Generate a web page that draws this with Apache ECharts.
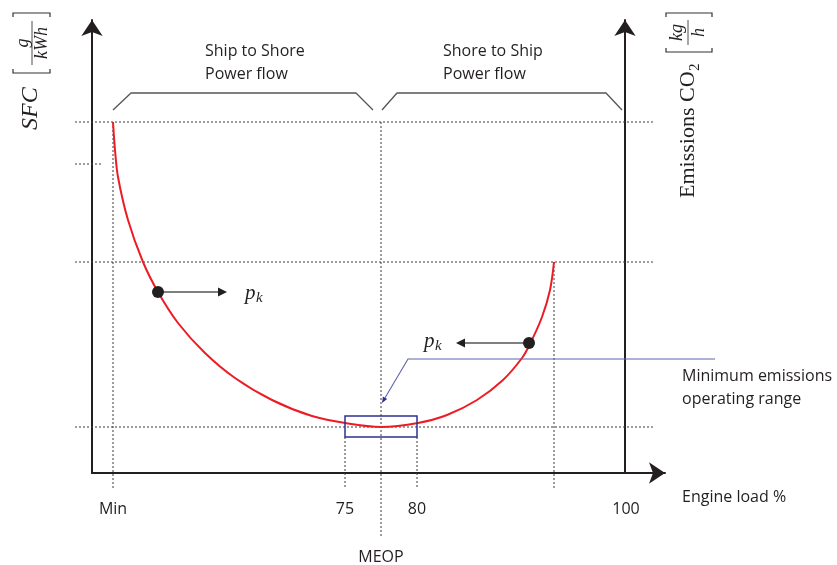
<!DOCTYPE html>
<html><head><meta charset="utf-8">
<script src="https://cdn.jsdelivr.net/npm/echarts@6/dist/echarts.min.js"></script>
<style>html,body{margin:0;padding:0;background:#fff}#chart{width:837px;height:565px}</style>
</head><body><div id="chart"></div>
<script>
// ---- Data (schematic units: x = engine load axis position, y = SFC / emissions level) ----
const xTickValues = [21, 253, 325, 534];
const xTickLabels = ['Min', '75', '80', '100'];

const curveX = [21, 23, 26, 36, 51, 66, 86, 113, 143, 180, 220, 256, 289, 326, 355, 385, 411, 430, 438, 450, 458, 462];
const curveY = [351, 323, 296, 253, 211, 181, 150, 120, 95, 73, 57, 49.5, 46, 50, 58, 73, 93, 115, 129, 156, 183, 211];

const pointX = [66, 437];
const pointY = [181, 130];
const arrowFromX = [66, 437];
const arrowToX = [135, 364];
const arrowY = [181, 130];
const pkLabelX = [153, 332];
const pkLabelY = [180, 132];

const guideX1 = [-17, -17, -17, -17, 21, 253, 289, 325, 462];
const guideY1 = [351, 211, 46, 309, 351, 36, 351, 36, 211];
const guideX2 = [563, 563, 563, 11, 21, 253, 289, 325, 462];
const guideY2 = [351, 211, 46, 309, -15, -15, -65, -15, -15];

const braceLeftX = [21, 39, 264, 281];
const braceLeftY = [363, 380, 380, 363];
const braceRightX = [290, 305, 514, 530];
const braceRightY = [363, 380, 380, 363];

const rangeX = [253, 325];
const rangeY = [36, 57];
const leaderX = [623, 316, 290];
const leaderY = [114, 114, 70];

const annotationText = ['Ship to Shore\nPower flow', 'Shore to Ship\nPower flow', 'Minimum emissions\noperating range', 'Engine load %', 'MEOP'];
const annotationX = [113, 351, 590, 590, 289];
const annotationY = [410.5, 410.5, 85, -24, -84];
const annotationAlign = ['left', 'left', 'left', 'left', 'center'];

// ---- Styling ----
const INK = '#231f20';
const SANS = '"Open Sans", "Noto Sans", sans-serif';
const SERIF = '"Liberation Serif", "DejaVu Serif", serif';

function measure(text, font) {
  const c = document.createElement('canvas').getContext('2d');
  c.font = font; return c.measureText(text).width;
}

const chart = echarts.init(document.getElementById('chart'), null, {renderer: 'canvas'});

const axisLineStyle = {show: true, onZero: false, symbol: ['none', 'arrow'], symbolSize: [16, 16], lineStyle: {color: INK, width: 2}};

const emW = measure('Emissions CO', '22px ' + SERIF);

const option = {
  animation: false,
  backgroundColor: '#fff',
  grid: [
    {left: 92, right: 172, top: 20, bottom: 92},
    {left: 92, right: 212, top: 20, bottom: 92}
  ],
  xAxis: [
    {gridIndex: 0, type: 'value', min: 0, max: 573,
     axisLine: axisLineStyle, axisTick: {show: false}, splitLine: {show: false},
     axisLabel: {customValues: xTickValues, formatter: v => { const i = xTickValues.indexOf(v); return i >= 0 ? xTickLabels[i] : ''; },
                 margin: 28, color: INK, fontSize: 16, fontFamily: SANS}},
    {gridIndex: 1, type: 'value', min: 0, max: 533, show: false}
  ],
  yAxis: [
    {gridIndex: 0, type: 'value', min: 0, max: 453, axisLine: axisLineStyle,
     axisTick: {show: false}, axisLabel: {show: false}, splitLine: {show: false}},
    {gridIndex: 1, type: 'value', min: 0, max: 453, position: 'right', axisLine: axisLineStyle,
     axisTick: {show: false}, axisLabel: {show: false}, splitLine: {show: false}}
  ],
  graphic: [
    {type: 'group', x: 12, y: 130, rotation: Math.PI / 2, silent: true, children: [
      {type: 'text', x: 0, y: 19, style: {text: 'SFC', fontFamily: SERIF, fontStyle: 'italic', fontSize: 24, fill: INK, align: 'left', verticalAlign: 'middle'}},
      {type: 'polyline', shape: {points: [[61, 1], [57, 1], [57, 38], [61, 38]]}, style: {stroke: '#333', lineWidth: 1.2, fill: null}},
      {type: 'polyline', shape: {points: [[113, 1], [117, 1], [117, 38], [113, 38]]}, style: {stroke: '#333', lineWidth: 1.2, fill: null}},
      {type: 'text', x: 87, y: 11, style: {text: 'g', fontFamily: SERIF, fontStyle: 'italic', fontSize: 18, fill: INK, align: 'center', verticalAlign: 'middle'}},
      {type: 'line', shape: {x1: 65, y1: 20, x2: 109, y2: 20}, style: {stroke: INK, lineWidth: 0.8}},
      {type: 'text', x: 87, y: 30, style: {text: 'kWh', fontFamily: SERIF, fontStyle: 'italic', fontSize: 18, fill: INK, align: 'center', verticalAlign: 'middle'}}
    ]},
    {type: 'group', x: 665, y: 198, rotation: Math.PI / 2, silent: true, children: [
      {type: 'text', x: 0, y: 23, style: {text: 'Emissions CO', fontFamily: SERIF, fontSize: 22, fill: INK, align: 'left', verticalAlign: 'middle'}},
      {type: 'text', x: emW + 0.5, y: 30, style: {text: '2', fontFamily: SERIF, fontSize: 15, fill: INK, align: 'left', verticalAlign: 'middle'}},
      {type: 'polyline', shape: {points: [[150, 1], [146, 1], [146, 47], [150, 47]]}, style: {stroke: '#333', lineWidth: 1.2, fill: null}},
      {type: 'polyline', shape: {points: [[181, 1], [185, 1], [185, 47], [181, 47]]}, style: {stroke: '#333', lineWidth: 1.2, fill: null}},
      {type: 'text', x: 165.5, y: 12, style: {text: 'kg', fontFamily: SERIF, fontStyle: 'italic', fontSize: 18, fill: INK, align: 'center', verticalAlign: 'middle'}},
      {type: 'line', shape: {x1: 153, y1: 23, x2: 178, y2: 23}, style: {stroke: INK, lineWidth: 0.8}},
      {type: 'text', x: 165.5, y: 34, style: {text: 'h', fontFamily: SERIF, fontStyle: 'italic', fontSize: 18, fill: INK, align: 'center', verticalAlign: 'middle'}}
    ]}
  ],
  series: [
    {type: 'custom', name: 'guides', silent: true, z: 1,
     dimensions: ['x1', 'y1', 'x2', 'y2'], encode: {x: [0, 2], y: [1, 3]},
     data: guideX1.map((v, i) => [v, guideY1[i], guideX2[i], guideY2[i]]),
     renderItem: (params, api) => {
       const a = api.coord([api.value(0), api.value(1)]);
       const b = api.coord([api.value(2), api.value(3)]);
       return {type: 'line', shape: {x1: a[0], y1: a[1], x2: b[0], y2: b[1]},
               style: {stroke: '#3a3a3a', lineWidth: 1, lineDash: [2, 2]}};
     }},
    {type: 'line', name: 'braceLeft', silent: true, symbol: 'none', z: 2,
     data: braceLeftX.map((x, i) => [x, braceLeftY[i]]),
     lineStyle: {color: '#555', width: 1.3}},
    {type: 'line', name: 'braceRight', silent: true, symbol: 'none', z: 2,
     data: braceRightX.map((x, i) => [x, braceRightY[i]]),
     lineStyle: {color: '#555', width: 1.3}},
    {type: 'line', name: 'SFC curve', silent: true, symbol: 'none', smooth: 0.33, z: 3,
     data: curveX.map((x, i) => [x, curveY[i]]),
     lineStyle: {color: '#ed1c24', width: 2}},
    {type: 'custom', name: 'range', silent: true, z: 4,
     dimensions: ['x1', 'y1', 'x2', 'y2'], encode: {x: [0, 2], y: [1, 3]},
     data: [[rangeX[0], rangeY[0], rangeX[1], rangeY[1]]],
     renderItem: (params, api) => {
       const a = api.coord([api.value(0), api.value(1)]);
       const b = api.coord([api.value(2), api.value(3)]);
       return {type: 'rect', shape: {x: Math.min(a[0], b[0]), y: Math.min(a[1], b[1]), width: Math.abs(b[0] - a[0]), height: Math.abs(b[1] - a[1])},
               style: {stroke: '#2e3192', lineWidth: 1.5, fill: null}};
     }},
    {type: 'custom', name: 'leader', silent: true, z: 4,
     data: [[leaderX[2], leaderY[2]]],
     renderItem: (params, api) => {
       const pts = leaderX.map((x, i) => api.coord([x, leaderY[i]]));
       const tip = pts[2], prev = pts[1];
       const dx = tip[0] - prev[0], dy = tip[1] - prev[1];
       const L = Math.hypot(dx, dy), ux = dx / L, uy = dy / L;
       const hl = 6, hw = 2.5;
       const base = [tip[0] - ux * hl, tip[1] - uy * hl];
       return {type: 'group', children: [
         {type: 'polyline', shape: {points: [pts[0], pts[1], base]}, style: {stroke: '#5f62ab', lineWidth: 1.1, fill: null}},
         {type: 'polygon', shape: {points: [tip, [base[0] - uy * hw, base[1] + ux * hw], [base[0] + uy * hw, base[1] - ux * hw]]}, style: {fill: '#2e3192'}}
       ]};
     }},
    {type: 'custom', name: 'pk arrows', silent: true, z: 5,
     data: arrowFromX.map((x, i) => [x, arrowY[i], arrowToX[i]]),
     renderItem: (params, api) => {
       const a = api.coord([api.value(0), api.value(1)]);
       const b = api.coord([api.value(2), api.value(1)]);
       const dir = Math.sign(b[0] - a[0]);
       return {type: 'group', children: [
         {type: 'line', shape: {x1: a[0], y1: a[1], x2: b[0] - dir * 8, y2: b[1]}, style: {stroke: '#555', lineWidth: 1.5}},
         {type: 'polygon', shape: {points: [[b[0], b[1]], [b[0] - dir * 9, b[1] - 4.5], [b[0] - dir * 9, b[1] + 4.5]]}, style: {fill: INK}}
       ]};
     }},
    {type: 'scatter', name: 'operating points', silent: true, z: 6,
     symbolSize: 12, itemStyle: {color: INK, opacity: 1},
     data: pointX.map((x, i) => [x, pointY[i]])},
    {type: 'custom', name: 'pk labels', silent: true, z: 6,
     data: pkLabelX.map((x, i) => [x, pkLabelY[i]]),
     renderItem: (params, api) => {
       const p = api.coord([api.value(0), api.value(1)]);
       const pw = measure('p', 'italic 21px ' + SERIF);
       return {type: 'group', children: [
         {type: 'text', x: p[0], y: p[1], style: {text: 'p', fontFamily: SERIF, fontStyle: 'italic', fontSize: 21, fill: INK, align: 'left', verticalAlign: 'middle'}},
         {type: 'text', x: p[0] + pw + 0.5, y: p[1] + 5, style: {text: 'k', fontFamily: SERIF, fontStyle: 'italic', fontSize: 15, fill: INK, align: 'left', verticalAlign: 'middle'}}
       ]};
     }},
    {type: 'custom', name: 'annotations', silent: true, z: 6,
     data: annotationX.map((x, i) => [x, annotationY[i]]),
     renderItem: (params, api) => {
       const i = params.dataIndex;
       const p = api.coord([api.value(0), api.value(1)]);
       return {type: 'text', x: p[0], y: p[1], style: {text: annotationText[i], fill: INK, fontFamily: SANS, fontSize: 16,
               align: annotationAlign[i], verticalAlign: 'middle', lineHeight: 23}};
     }}
  ]
};
chart.setOption(option);
</script></body></html>
